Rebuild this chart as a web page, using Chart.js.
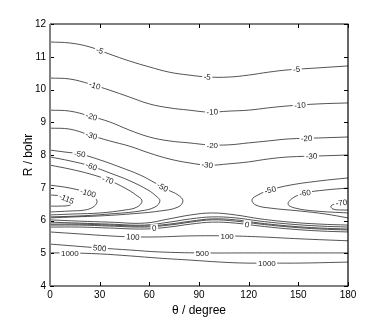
<!DOCTYPE html>
<html>
<head>
<meta charset="utf-8">
<script src="https://cdn.jsdelivr.net/npm/chart.js@4.4.0/dist/chart.umd.min.js"></script>
<style>
  html, body { margin: 0; padding: 0; background: #fff; }
</style>
</head>
<body>
<canvas id="contourChart" width="385" height="322"></canvas>
<script>
// Tick labels
const xTicks = [0, 30, 60, 90, 120, 150, 180];
const yTicks = [4, 5, 6, 7, 8, 9, 10, 11, 12];

// Long-range branches running across the whole angle range
const thetaTop = [0, 12, 24, 36, 48, 60, 72, 84, 96, 108, 120, 132, 144, 162, 180];
const rM5Top  = [11.45, 11.42, 11.30, 11.08, 10.87, 10.69, 10.53, 10.44, 10.38, 10.38, 10.44, 10.53, 10.60, 10.66, 10.72];
const rM10Top = [10.35, 10.32, 10.17, 9.98, 9.77, 9.56, 9.44, 9.37, 9.31, 9.34, 9.37, 9.44, 9.50, 9.56, 9.59];
const rM20Top = [9.37, 9.34, 9.19, 9.01, 8.76, 8.55, 8.43, 8.37, 8.31, 8.31, 8.37, 8.43, 8.49, 8.52, 8.55];
const rM30Top = [8.82, 8.79, 8.61, 8.43, 8.27, 8.06, 7.88, 7.76, 7.69, 7.73, 7.79, 7.88, 7.94, 7.97, 8.00];

// Branches squeezed against the repulsive wall
const thetaLow = [0, 18, 36, 57, 72, 85, 98, 112, 127, 145, 163, 180];
const rZeroLow = [5.80, 5.80, 5.77, 5.74, 5.80, 5.89, 5.95, 5.92, 5.83, 5.74, 5.68, 5.65];
const rM5Low   = [5.86, 5.86, 5.83, 5.80, 5.86, 5.95, 6.02, 5.98, 5.89, 5.80, 5.74, 5.71];
const rM10Low  = [5.89, 5.89, 5.86, 5.83, 5.89, 5.98, 6.05, 6.02, 5.92, 5.83, 5.77, 5.74];
const rM20Low  = [5.95, 5.92, 5.89, 5.86, 5.95, 6.05, 6.11, 6.08, 5.98, 5.89, 5.83, 5.80];
const rM30Low  = [6.02, 5.98, 5.95, 5.92, 6.05, 6.17, 6.23, 6.17, 6.05, 5.95, 5.89, 5.86];

// Repulsive contours
const theta100 = [0, 18, 36, 50, 66, 85, 107, 127, 151, 180];
const r100 = [5.65, 5.59, 5.53, 5.50, 5.50, 5.53, 5.53, 5.50, 5.44, 5.38];
const theta500 = [0, 15, 30, 48, 66, 91, 121, 151, 180];
const r500 = [5.28, 5.22, 5.16, 5.10, 5.04, 5.01, 5.01, 5.01, 5.01];
const theta1000 = [0, 12, 30, 48, 66, 85, 103, 118, 131, 151, 180];
const r1000 = [5.01, 5.01, 4.98, 4.92, 4.85, 4.79, 4.73, 4.70, 4.70, 4.70, 4.73];

// Well around theta = 0
const thetaM115 = [0, 6.0, 10.3, 13.3, 12.1, 6.0, 0];
const rM115 = [6.78, 6.75, 6.66, 6.56, 6.47, 6.44, 6.44];
const thetaM100L = [0, 12.1, 23.0, 27.2, 28.4, 26.0, 21.1, 12.1, 0];
const rM100L = [7.08, 6.99, 6.84, 6.69, 6.56, 6.41, 6.32, 6.29, 6.26];
const thetaM70L = [0, 12.1, 24.2, 35.0, 45.3, 51.9, 55.6, 52.5, 45.3, 30.2, 15.1, 0];
const rM70L = [7.69, 7.57, 7.42, 7.24, 6.99, 6.78, 6.60, 6.41, 6.32, 6.23, 6.20, 6.17];
const thetaM60L = [0, 12.1, 24.8, 36.2, 48.3, 59.2, 64.0, 66.4, 63.4, 54.4, 36.2, 18.1, 0];
const rM60L = [7.94, 7.82, 7.66, 7.45, 7.21, 6.93, 6.75, 6.60, 6.41, 6.29, 6.20, 6.14, 6.11];
const thetaM50L = [0, 9.1, 18.1, 30.2, 42.3, 54.4, 63.4, 71.3, 77.3, 80.3, 77.3, 66.4, 48.3, 30.2, 15.1, 0];
const rM50L = [8.15, 8.09, 8.03, 7.85, 7.63, 7.39, 7.15, 6.93, 6.78, 6.60, 6.41, 6.29, 6.20, 6.14, 6.11, 6.08];

// Well around theta = 180
const thetaM50R = [180, 163.1, 145.0, 132.9, 125.6, 122.0, 124.4, 132.9, 151.0, 166.1, 180];
const rM50R = [7.30, 7.21, 7.08, 6.93, 6.78, 6.63, 6.47, 6.38, 6.29, 6.20, 6.08];
const thetaM60R = [180, 166.1, 154.0, 146.8, 143.8, 148.0, 160.1, 180];
const rM60R = [6.99, 6.93, 6.84, 6.69, 6.50, 6.38, 6.29, 6.23];
const thetaM70R = [180, 173.9, 169.7, 170.9, 176.4, 180];
const rM70R = [6.56, 6.53, 6.44, 6.35, 6.32, 6.32];

// name -> level, angles, radii
const branches = {
    m5Top: ['-5', thetaTop, rM5Top],
    m10Top: ['-10', thetaTop, rM10Top],
    m20Top: ['-20', thetaTop, rM20Top],
    m30Top: ['-30', thetaTop, rM30Top],
    zero: ['0', thetaLow, rZeroLow],
    m5Low: ['-5', thetaLow, rM5Low],
    m10Low: ['-10', thetaLow, rM10Low],
    m20Low: ['-20', thetaLow, rM20Low],
    m30Low: ['-30', thetaLow, rM30Low],
    p100: ['100', theta100, r100],
    p500: ['500', theta500, r500],
    p1000: ['1000', theta1000, r1000],
    m115: ['-115', thetaM115, rM115],
    m100L: ['-100', thetaM100L, rM100L],
    m70L: ['-70', thetaM70L, rM70L],
    m60L: ['-60', thetaM60L, rM60L],
    m50L: ['-50', thetaM50L, rM50L],
    m50R: ['-50', thetaM50R, rM50R],
    m60R: ['-60', thetaM60R, rM60R],
    m70R: ['-70', thetaM70R, rM70R]
};

// Inline contour labels: branch and angle where the label sits
const contourLabels = [
    ['m5Top', 30], ['m5Top', 95], ['m5Top', 149],
    ['m10Top', 27], ['m10Top', 98], ['m10Top', 151],
    ['m20Top', 25], ['m20Top', 98], ['m20Top', 155],
    ['m30Top', 25], ['m30Top', 95], ['m30Top', 158],
    ['m50L', 18], ['m50L', 68], ['m60L', 25], ['m70L', 35], ['m100L', 23], ['m115', 10],
    ['m50R', 133], ['m60R', 154], ['m70R', 176],
    ['zero', 63], ['zero', 119],
    ['p100', 50], ['p100', 107],
    ['p500', 30], ['p500', 92],
    ['p1000', 12], ['p1000', 131]
];

const FONT = '"Liberation Sans", Arial, Helvetica, sans-serif';

const datasets = Object.keys(branches).map(name => {
    const [, th, rr] = branches[name];
    return {
        label: name,
        data: th.map((t, i) => ({ x: t, y: rr[i] })),
        showLine: true,
        borderColor: 'rgba(0,0,0,0.85)',
        borderWidth: 0.8,
        pointRadius: 0,
        tension: 0.4,
        fill: false
    };
});

// Find pixel position + angle of a label on a branch
function labelPlace(chart, name, theta) {
    const [, th, rr] = branches[name];
    const xs = chart.scales.x, ys = chart.scales.y;
    for (let i = 0; i < th.length - 1; i++) {
        const a = th[i], b = th[i + 1];
        if ((theta - a) * (theta - b) <= 0 && a !== b) {
            const f = (theta - a) / (b - a);
            const r = rr[i] + f * (rr[i + 1] - rr[i]);
            const x0 = xs.getPixelForValue(a), y0 = ys.getPixelForValue(rr[i]);
            const x1 = xs.getPixelForValue(b), y1 = ys.getPixelForValue(rr[i + 1]);
            let ang = Math.atan2(y1 - y0, x1 - x0);
            if (ang > Math.PI / 2) ang -= Math.PI;
            if (ang < -Math.PI / 2) ang += Math.PI;
            return { x: xs.getPixelForValue(theta), y: ys.getPixelForValue(r), ang };
        }
    }
    return null;
}

const contourDecor = {
    id: 'contourDecor',
    afterDatasetsDraw(chart) {
        const ctx = chart.ctx;
        const area = chart.chartArea;

        // labels
        ctx.save();
        ctx.beginPath();
        ctx.rect(area.left, area.top, area.right - area.left, area.bottom - area.top);
        ctx.clip();
        ctx.font = '8px ' + FONT;
        ctx.textAlign = 'center';
        ctx.textBaseline = 'middle';
        contourLabels.forEach(([name, theta]) => {
            const p = labelPlace(chart, name, theta);
            if (!p) return;
            const text = branches[name][0];
            const w = ctx.measureText(text).width + 3;
            ctx.save();
            ctx.translate(p.x, p.y);
            ctx.rotate(p.ang);
            ctx.fillStyle = '#fff';
            ctx.fillRect(-w / 2, -4, w, 8);
            ctx.fillStyle = '#222';
            ctx.fillText(text, 0, 0.5);
            ctx.restore();
        });
        ctx.restore();

        // frame and inward ticks
        const xs = chart.scales.x, ys = chart.scales.y;
        ctx.save();
        ctx.strokeStyle = '#000';
        ctx.lineWidth = 1;
        ctx.beginPath();
        xTicks.forEach(v => {
            const px = Math.round(xs.getPixelForValue(v)) + 0.5;
            ctx.moveTo(px, area.bottom); ctx.lineTo(px, area.bottom - 4);
            ctx.moveTo(px, area.top); ctx.lineTo(px, area.top + 4);
        });
        yTicks.forEach(v => {
            const py = Math.round(ys.getPixelForValue(v)) + 0.5;
            ctx.moveTo(area.left, py); ctx.lineTo(area.left + 4, py);
            ctx.moveTo(area.right, py); ctx.lineTo(area.right - 4, py);
        });
        ctx.stroke();

        ctx.lineWidth = 1.2;
        ctx.beginPath();
        ctx.moveTo(area.left, area.top); ctx.lineTo(area.right, area.top);
        ctx.lineTo(area.right, area.bottom); ctx.lineTo(area.left, area.bottom);
        ctx.stroke();

        ctx.strokeStyle = '#808080';
        ctx.lineWidth = 2;
        ctx.beginPath();
        ctx.moveTo(area.left, area.top); ctx.lineTo(area.left, area.bottom);
        ctx.stroke();
        ctx.restore();
    }
};

new Chart(document.getElementById('contourChart'), {
    type: 'scatter',
    data: { datasets },
    options: {
        responsive: false,
        animation: false,
        devicePixelRatio: 1,
        layout: { padding: { left: 0, top: 24, right: 37, bottom: 0 } },
        plugins: {
            legend: { display: false },
            tooltip: { enabled: false }
        },
        scales: {
            x: {
                type: 'linear',
                min: 0,
                max: 180,
                afterBuildTicks: s => { s.ticks = xTicks.map(v => ({ value: v })); },
                afterFit: s => { s.height = 36; s.paddingLeft = 0; s.paddingRight = 0; },
                ticks: { font: { family: FONT, size: 10 }, color: '#000', padding: 3, maxRotation: 0 },
                grid: { display: false, drawTicks: false },
                border: { display: false },
                title: {
                    display: true,
                    text: 'θ / degree',
                    font: { family: FONT, size: 12 },
                    color: '#000',
                    padding: { top: 0, bottom: 4 }
                }
            },
            y: {
                type: 'linear',
                min: 4,
                max: 12,
                afterBuildTicks: s => { s.ticks = yTicks.map(v => ({ value: v })); },
                afterFit: s => { s.width = 50; s.paddingTop = 0; s.paddingBottom = 0; },
                ticks: { font: { family: FONT, size: 10 }, color: '#000', padding: 4 },
                grid: { display: false, drawTicks: false },
                border: { display: false },
                title: {
                    display: true,
                    text: 'R / bohr',
                    font: { family: FONT, size: 12 },
                    color: '#000',
                    padding: { top: 21, bottom: 0 }
                }
            }
        }
    },
    plugins: [contourDecor]
});
</script>
</body>
</html>
